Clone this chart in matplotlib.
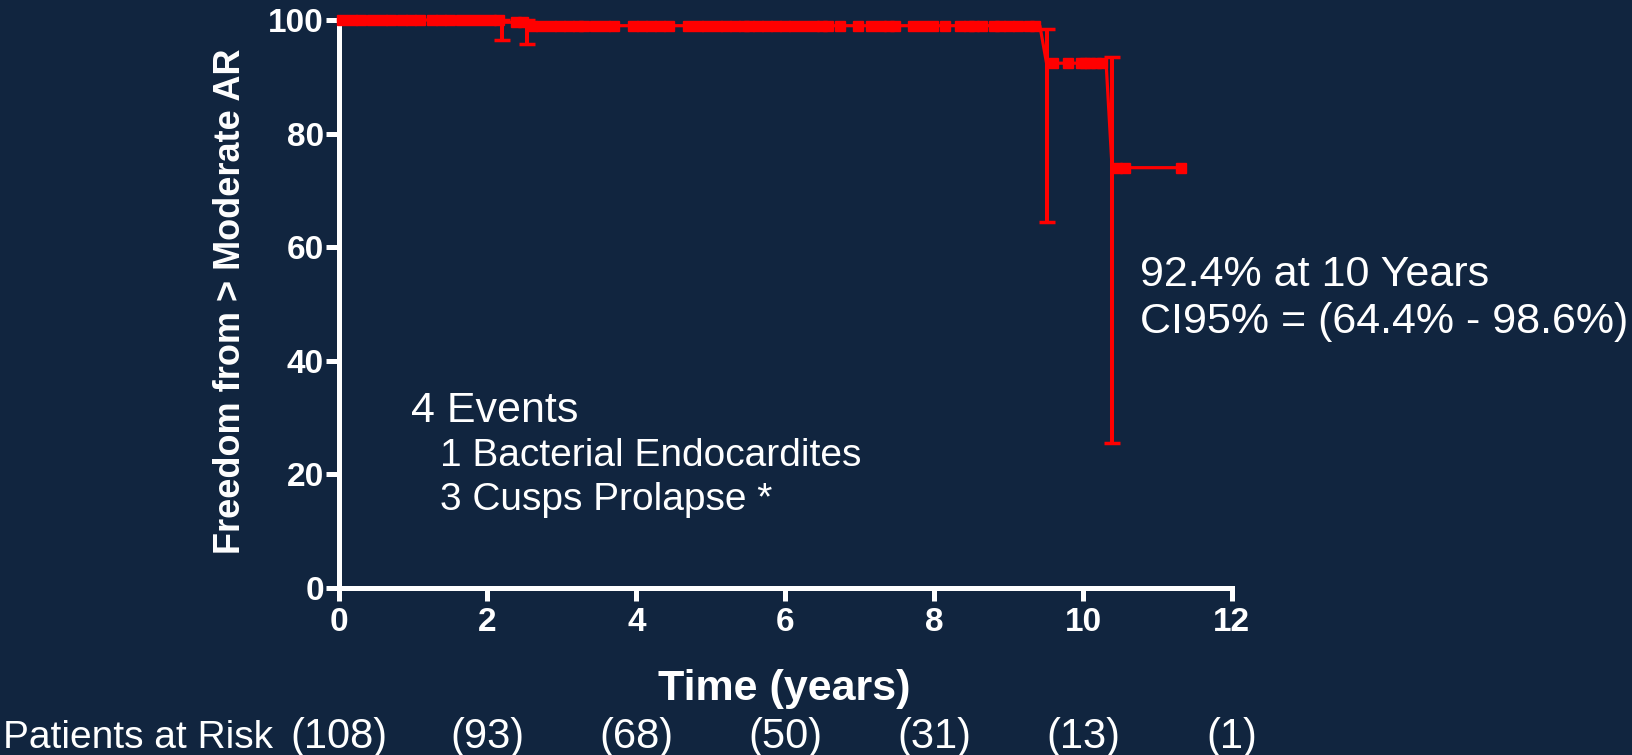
import matplotlib
matplotlib.use("Agg")
import matplotlib.pyplot as plt

# Kaplan-Meier curve
curve_t = [0, 2.2, 2.2, 2.53, 2.53, 9.42, 9.51, 10.31, 10.39, 11.32]
curve_s = [100, 100, 99.6, 99.6, 99.0, 99.0, 92.4, 92.4, 74.0, 74.0]

# events with 95% CI bars
event_t = [2.2, 2.53, 9.51, 10.39]
event_s = [99.6, 99.0, 92.4, 74.0]
ci_low = [96.4, 95.8, 64.4, 25.5]
ci_high = [100, 100, 98.4, 93.5]

# censored observations
cens_100 = [0.05, 0.18, 0.3, 0.45, 0.58, 0.7, 0.85, 0.98, 1.1, 1.25, 1.38,
            1.5, 1.65, 1.78, 1.92, 2.05, 2.15]
cens_996 = [2.38, 2.48]
cens_99 = [2.6, 2.72, 2.85, 2.98, 3.1, 3.22, 3.3, 3.45, 3.58, 3.7, 3.95,
           4.08, 4.2, 4.32, 4.44, 4.7, 4.83, 4.95, 5.08, 5.2, 5.32, 5.44,
           5.52, 5.63, 5.75, 5.88, 6.0, 6.12, 6.25, 6.38, 6.5, 6.57, 6.73,
           6.98, 7.15, 7.28, 7.4, 7.47, 7.72, 7.85, 7.99, 8.14, 8.35, 8.47,
           8.54, 8.64, 8.8, 8.88, 9.01, 9.13, 9.28, 9.35]
cens_924 = [9.6, 9.8, 9.97, 10.02, 10.1, 10.18, 10.26]
cens_74 = [10.45, 10.57, 11.32]

risk_t = [0, 2, 4, 6, 8, 10, 12]
risk_n = [108, 93, 68, 50, 31, 13, 1]

bg = '#11253f'
red = '#ff0000'
plt.rcParams['font.family'] = ['Liberation Sans', 'DejaVu Sans']

fig = plt.figure(figsize=(16.33, 7.55), dpi=100, facecolor=bg)
ax = fig.add_axes([0.2073, 0.2212, 0.5471, 0.7523], facecolor=bg)

ax.plot(curve_t, curve_s, color=red, lw=2.3, clip_on=False, zorder=3)
ax.errorbar(event_t, event_s,
            yerr=[[s - l for s, l in zip(event_s, ci_low)],
                  [h - s for s, h in zip(event_s, ci_high)]],
            fmt='none', ecolor=red, elinewidth=2.9, capsize=6, capthick=2.5,
            clip_on=False, zorder=3)
for times, lvl in [(cens_100, 100), (cens_996, 99.6), (cens_99, 99.0),
                   (cens_924, 92.4), (cens_74, 74.0)]:
    ax.plot(times, [lvl] * len(times), ls='none', marker='s', ms=6.5,
            color=red, mec=red, clip_on=False, zorder=4)

ax.set_xlim(0, 12)
ax.set_ylim(0, 100)
ax.set_xticks(range(0, 13, 2))
ax.set_yticks(range(0, 101, 20))
for side in ['top', 'right']:
    ax.spines[side].set_visible(False)
for side in ['left', 'bottom']:
    ax.spines[side].set_color('white')
    ax.spines[side].set_linewidth(3.6)
ax.tick_params(colors='white', width=3.6, length=9.5, labelsize=24)
ax.tick_params(axis='x', pad=4)
ax.tick_params(axis='y', pad=1)
for lab in ax.get_xticklabels() + ax.get_yticklabels():
    lab.set_fontweight('bold')

fig.text(784.5 / 1633, 1 - 700 / 755, 'Time (years)', color='white',
         fontsize=31, fontweight='bold', ha='center', va='baseline')
fig.text(231 / 1633, 1 - 301 / 755, 'Freedom from > Moderate AR',
         color='white', fontsize=26, fontweight='bold', rotation=90,
         ha='center', va='center')

ax.text(10.76, 53.2, '92.4% at 10 Years', color='white', fontsize=31,
        va='baseline', clip_on=False)
ax.text(10.76, 44.9, 'CI95% = (64.4% - 98.6%)', color='white', fontsize=31,
        va='baseline', clip_on=False)
ax.text(0.97, 29.2, '4 Events', color='white', fontsize=31, va='baseline')
ax.text(1.36, 21.5, '1 Bacterial Endocardites', color='white', fontsize=28,
        va='baseline')
ax.text(1.36, 13.7, '3 Cusps Prolapse *', color='white', fontsize=28,
        va='baseline')

fig.text(3 / 1633, 1 - 748 / 755, 'Patients at Risk', color='white',
         fontsize=28, va='baseline', ha='left')
for t, n in zip(risk_t, risk_n):
    ax.annotate(f'({n})', xy=(t, 0), xycoords=('data', 'axes fraction'),
                xytext=(0, -(748 - 588)), textcoords='offset pixels',
                color='white', fontsize=30, ha='center', va='baseline',
                annotation_clip=False)

fig.savefig('out.png', dpi=100, facecolor=bg)
